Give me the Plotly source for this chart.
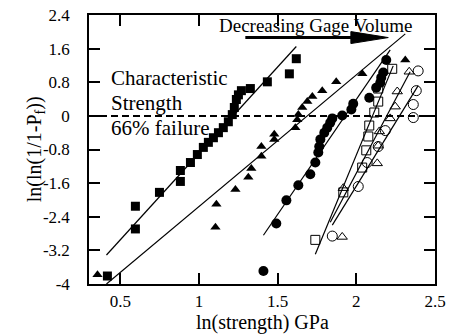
import plotly.graph_objects as go

# ---- data ----
sq_x = [0.417, 0.595, 0.595, 0.748, 0.881, 0.881, 0.945, 0.989, 1.027, 1.059, 1.091, 1.123,
        1.154, 1.186, 1.211, 1.224, 1.237, 1.250, 1.269, 1.326, 1.434, 1.574, 1.618]
sq_y = [-3.81, -2.69, -2.15, -1.82, -1.56, -1.30, -1.11, -0.92, -0.75, -0.63, -0.52, -0.40,
        -0.28, -0.14, 0.03, 0.20, 0.39, 0.50, 0.60, 0.65, 0.81, 1.00, 1.36]

tri_x = [0.354, 1.104, 1.110, 1.231, 1.313, 1.332, 1.396, 1.396, 1.478, 1.478, 1.612, 1.624,
         1.631, 1.656, 1.688, 1.720, 1.783, 1.872, 2.038, 2.311]
tri_y = [-3.78, -2.65, -2.10, -1.75, -1.46, -1.25, -0.96, -0.73, -0.56, -0.44, -0.28, -0.09,
         0.03, 0.20, 0.34, 0.46, 0.60, 0.81, 1.00, 1.33]

circ_x = [1.409, 1.491, 1.555, 1.631, 1.707, 1.739, 1.758, 1.764, 1.771, 1.796, 1.815, 1.834,
          1.847, 1.910, 1.968, 1.980, 2.082, 2.126, 2.152, 2.158, 2.171, 2.190]
circ_y = [-3.69, -2.56, -2.01, -1.65, -1.39, -1.11, -0.87, -0.73, -0.56, -0.40, -0.28, -0.16,
          -0.06, 0.01, 0.15, 0.29, 0.43, 0.67, 0.79, 0.91, 1.03, 1.33]

osq_x = [1.739, 1.917, 2.037, 2.063, 2.076, 2.082, 2.114, 2.139, 2.139, 2.228]
osq_y = [-2.95, -1.82, -1.23, -0.82, -0.49, -0.23, 0.08, 0.34, 0.65, 1.12]

otri_x = [1.910, 1.917, 2.133, 2.139, 2.146, 2.215, 2.247, 2.260, 2.336]
otri_y = [-2.88, -1.72, -1.13, -0.71, -0.37, -0.06, 0.22, 0.58, 1.05]

ocirc_x = [1.847, 2.012, 2.069, 2.139, 2.184, 2.362, 2.362, 2.381, 2.393]
ocirc_y = [-2.86, -1.68, -1.11, -0.73, -0.35, -0.04, 0.27, 0.60, 1.07]

# Weibull fit lines (endpoints)
fit_sq_x, fit_sq_y = [0.411, 1.618], [-3.31, 1.65]
fit_tri_x, fit_tri_y = [0.411, 2.311], [-4.00, 1.95]
fit_circ_x, fit_circ_y = [1.409, 2.215], [-2.84, 1.57]
fit_osq_x, fit_osq_y = [1.739, 2.234], [-3.29, 1.19]
fit_otri_x, fit_otri_y = [1.834, 2.342], [-2.53, 1.05]
fit_ocirc_x, fit_ocirc_y = [1.847, 2.393], [-2.60, 0.72]

x_ticks = [0.5, 1, 1.5, 2, 2.5]
x_ticktext = ["0.5", "1", "1.5", "2", "2.5"]
y_ticks = [-4, -3.2, -2.4, -1.6, -0.8, 0, 0.8, 1.6, 2.4]
y_ticktext = ["-4", "-3.2", "-2.4", "-1.6", "-0.8", "0", "0.8", "1.6", "2.4"]

x_title = "ln(strength) GPa"
y_title = "ln(ln(1/1-P<sub>f</sub>))"

FONT = "Times New Roman, Liberation Serif, serif"

fig = go.Figure()

for fx, fy in [(fit_sq_x, fit_sq_y), (fit_tri_x, fit_tri_y), (fit_circ_x, fit_circ_y),
               (fit_osq_x, fit_osq_y), (fit_otri_x, fit_otri_y), (fit_ocirc_x, fit_ocirc_y)]:
    fig.add_trace(go.Scatter(x=fx, y=fy, mode="lines",
                             line=dict(color="black", width=1.2), showlegend=False))

fig.add_trace(go.Scatter(x=sq_x, y=sq_y, mode="markers",
                         marker=dict(symbol="square", size=9, color="black"), showlegend=False))
fig.add_trace(go.Scatter(x=tri_x, y=tri_y, mode="markers",
                         marker=dict(symbol="triangle-up", size=9, color="black"), showlegend=False))
fig.add_trace(go.Scatter(x=circ_x, y=circ_y, mode="markers",
                         marker=dict(symbol="circle", size=10, color="black"), showlegend=False))
fig.add_trace(go.Scatter(x=osq_x, y=osq_y, mode="markers",
                         marker=dict(symbol="square-open", size=9, color="black",
                                     line=dict(width=1)), showlegend=False))
fig.add_trace(go.Scatter(x=otri_x, y=otri_y, mode="markers",
                         marker=dict(symbol="triangle-up-open", size=9, color="black",
                                     line=dict(width=1)), showlegend=False))
fig.add_trace(go.Scatter(x=ocirc_x, y=ocirc_y, mode="markers",
                         marker=dict(symbol="circle-open", size=10, color="black",
                                     line=dict(width=1)), showlegend=False))

# characteristic strength dashed line
fig.add_shape(type="line", xref="paper", x0=0, x1=1, yref="y", y0=0, y1=0,
              line=dict(color="black", width=2, dash="7px,4px"))

# arrow
fig.add_shape(type="line", xref="x", yref="y", x0=1.294, x1=1.99, y0=1.863, y1=1.863,
              line=dict(color="black", width=3))
fig.add_shape(type="path", xref="x", yref="y",
              path="M 1.965 2.005 L 2.203 1.863 L 1.965 1.721 Z",
              fillcolor="black", line=dict(color="black", width=1))

fig.add_annotation(x=1.739, y=2.16, xref="x", yref="y", text="Decreasing Gage Volume",
                   xanchor="center", yanchor="middle",
                   showarrow=False, font=dict(family=FONT, size=19, color="black"))
for txt, yy in [("Characteristic", 0.90), ("Strength", 0.31), ("66% failure", -0.28)]:
    fig.add_annotation(x=0.424, y=yy, xref="x", yref="y", text=txt,
                       xanchor="left", yanchor="middle",
                       showarrow=False, font=dict(family=FONT, size=21, color="black"))

# axis titles
fig.add_annotation(x=0.5, y=-0.142, xref="paper", yref="paper", text=x_title,
                   xanchor="center", yanchor="middle",
                   showarrow=False, font=dict(family=FONT, size=20, color="black"))
fig.add_annotation(x=-0.154, y=0.5, xref="paper", yref="paper", text=y_title,
                   xanchor="center", yanchor="middle",
                   textangle=-90, showarrow=False,
                   font=dict(family=FONT, size=20, color="black"))

axis_common = dict(showline=True, linecolor="black", linewidth=1.5, mirror="ticks",
                   ticks="inside", ticklen=11, tickwidth=1.5, tickcolor="black",
                   showgrid=False, zeroline=False, automargin=False,
                   tickfont=dict(family=FONT, size=17, color="black"))

fig.update_layout(
    width=450, height=334,
    margin=dict(l=89, r=15, t=15, b=50),
    paper_bgcolor="white", plot_bgcolor="white",
    font=dict(family=FONT, color="black"),
    xaxis=dict(range=[0.3, 2.5], tickvals=x_ticks, ticktext=x_ticktext,
               ticklabelstandoff=1, **axis_common),
    yaxis=dict(range=[-4, 2.4], tickvals=y_ticks, ticktext=y_ticktext,
               ticklabelstandoff=14, **axis_common),
)

fig.write_html("out.html")
